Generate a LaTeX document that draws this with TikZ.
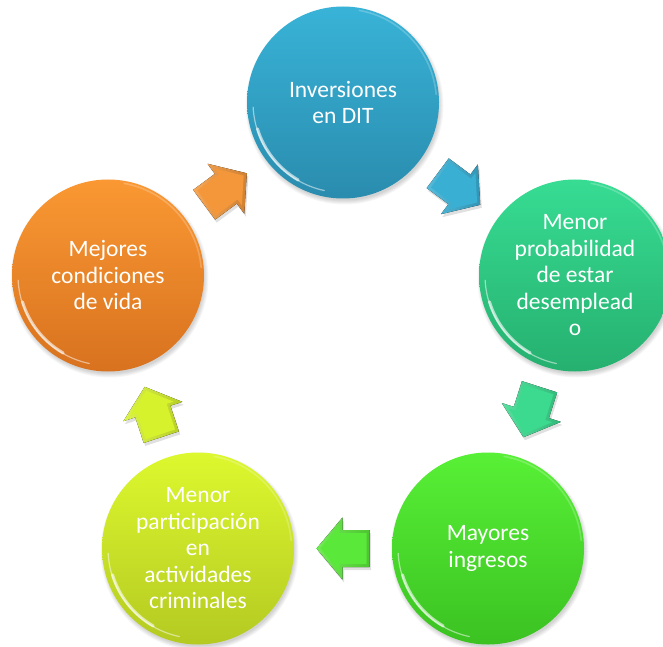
\documentclass[tikz,border=0pt]{standalone}
\usepackage{fontspec}
\setmainfont{Carlito}
\usetikzlibrary{calc}

\definecolor{blueT}{HTML}{38B3D7}
\definecolor{blueB}{HTML}{2A8CAE}
\definecolor{tealT}{HTML}{37DC93}
\definecolor{tealB}{HTML}{26B070}
\definecolor{greenT}{HTML}{58F036}
\definecolor{greenB}{HTML}{3BC222}
\definecolor{yelT}{HTML}{DDF82E}
\definecolor{yelB}{HTML}{B4CA22}
\definecolor{orT}{HTML}{FA9833}
\definecolor{orB}{HTML}{D8721F}

\definecolor{arBlue}{HTML}{3AAFD4}
\definecolor{arTeal}{HTML}{3BDA8F}
\definecolor{arGreen}{HTML}{5AE83A}
\definecolor{arYel}{HTML}{D6F22C}
\definecolor{arOr}{HTML}{F4973A}

\tikzset{
  bubble/.style={circle, minimum size=192pt, inner sep=0pt, draw=none},
  bubbletext/.style={text=white, align=center, inner sep=0pt,
    font=\fontsize{23.5pt}{26.5pt}\selectfont},
  shine/.style={white, line cap=round},
}

\newcommand\mkbubble[5]{%
  \foreach \k in {0,1,2,3,4} {\fill[black, opacity=0.035] ($#2+(1.5pt,-3pt)$) circle[radius={95pt+\k pt}];}
  \node[bubble, top color=#3, bottom color=#4] (#1) at #2 {};
  \draw[shine, opacity=0.5, line width=1.2pt] ($(#1)+(183:90pt)$) arc[start angle=183, end angle=258, radius=90pt];
  \draw[shine, opacity=0.6, line width=3pt] ($(#1)+(197:89.5pt)$) arc[start angle=197, end angle=240, radius=89.5pt];
  \draw[shine, opacity=0.22, line width=1.6pt] ($(#1)+(5:93.5pt)$) arc[start angle=5, end angle=80, radius=93.5pt];
  \node[bubbletext] (#1t) at (#1) {#5};
}

\newcommand\mkarrow[4]{%
  \begin{scope}[shift={#1}, xshift=1.5pt, yshift=-3pt, rotate=#2]
    \fill[black, opacity=0.12] (-26.5,-18.5) -- (0.5,-18.5) -- (0.5,-31) -- (26.5,0) -- (0.5,31) -- (0.5,18.5) -- (-26.5,18.5) -- cycle;
  \end{scope}
  \begin{scope}[shift={#1}, rotate=#2]
    \fill[left color=#3!85!white, right color=#3!85!black] (-26.5,-18.5) -- (0.5,-18.5) -- (0.5,-31) -- (26.5,0) -- (0.5,31) -- (0.5,18.5) -- (-26.5,18.5) -- cycle;
    \fill[#3] (-23.5,-15.5) -- (3.5,-15.5) -- (3.5,-22.75) -- (22.6,0) -- (3.5,22.75) -- (3.5,15.5) -- (-23.5,15.5) -- cycle;
  \end{scope}
}

\begin{document}
\begin{tikzpicture}[x=1pt, y=1pt]
  \path[use as bounding box] (0,0) rectangle (663,646);
  \clip (0,0) rectangle (663,646);
  \fill[white] (0,0) rectangle (663,646);

  \mkbubble{T}{(343,543.5)}{blueT}{blueB}{Inversiones\\en DIT}
  \mkbubble{R}{(575,370.5)}{tealT}{tealB}{Menor\\probabilidad\\de estar\\desemplead\\o}
  \mkbubble{BR}{(488,97.5)}{greenT}{greenB}{Mayores\\ingresos}
  \mkbubble{BL}{(198,97.5)}{yelT}{yelB}{Menor\\participación\\en\\actividades\\criminales}
  \mkbubble{L}{(108,370.5)}{orT}{orB}{Mejores\\condiciones\\de vida}

  \mkarrow{{($(T)!0.5!(R)$)}}{-36.6}{arBlue}{blueB}
  \mkarrow{{($(R)!0.5!(BR)$)}}{-107.7}{arTeal}{tealB}
  \mkarrow{{($(BR)!0.5!(BL)$)}}{180}{arGreen}{greenB}
  \mkarrow{{($(BL)!0.5!(L)$)}}{108.2}{arYel}{yelB}
  \mkarrow{{($(L)!0.5!(T)$)}}{36.4}{arOr}{orB}
\end{tikzpicture}
\end{document}
